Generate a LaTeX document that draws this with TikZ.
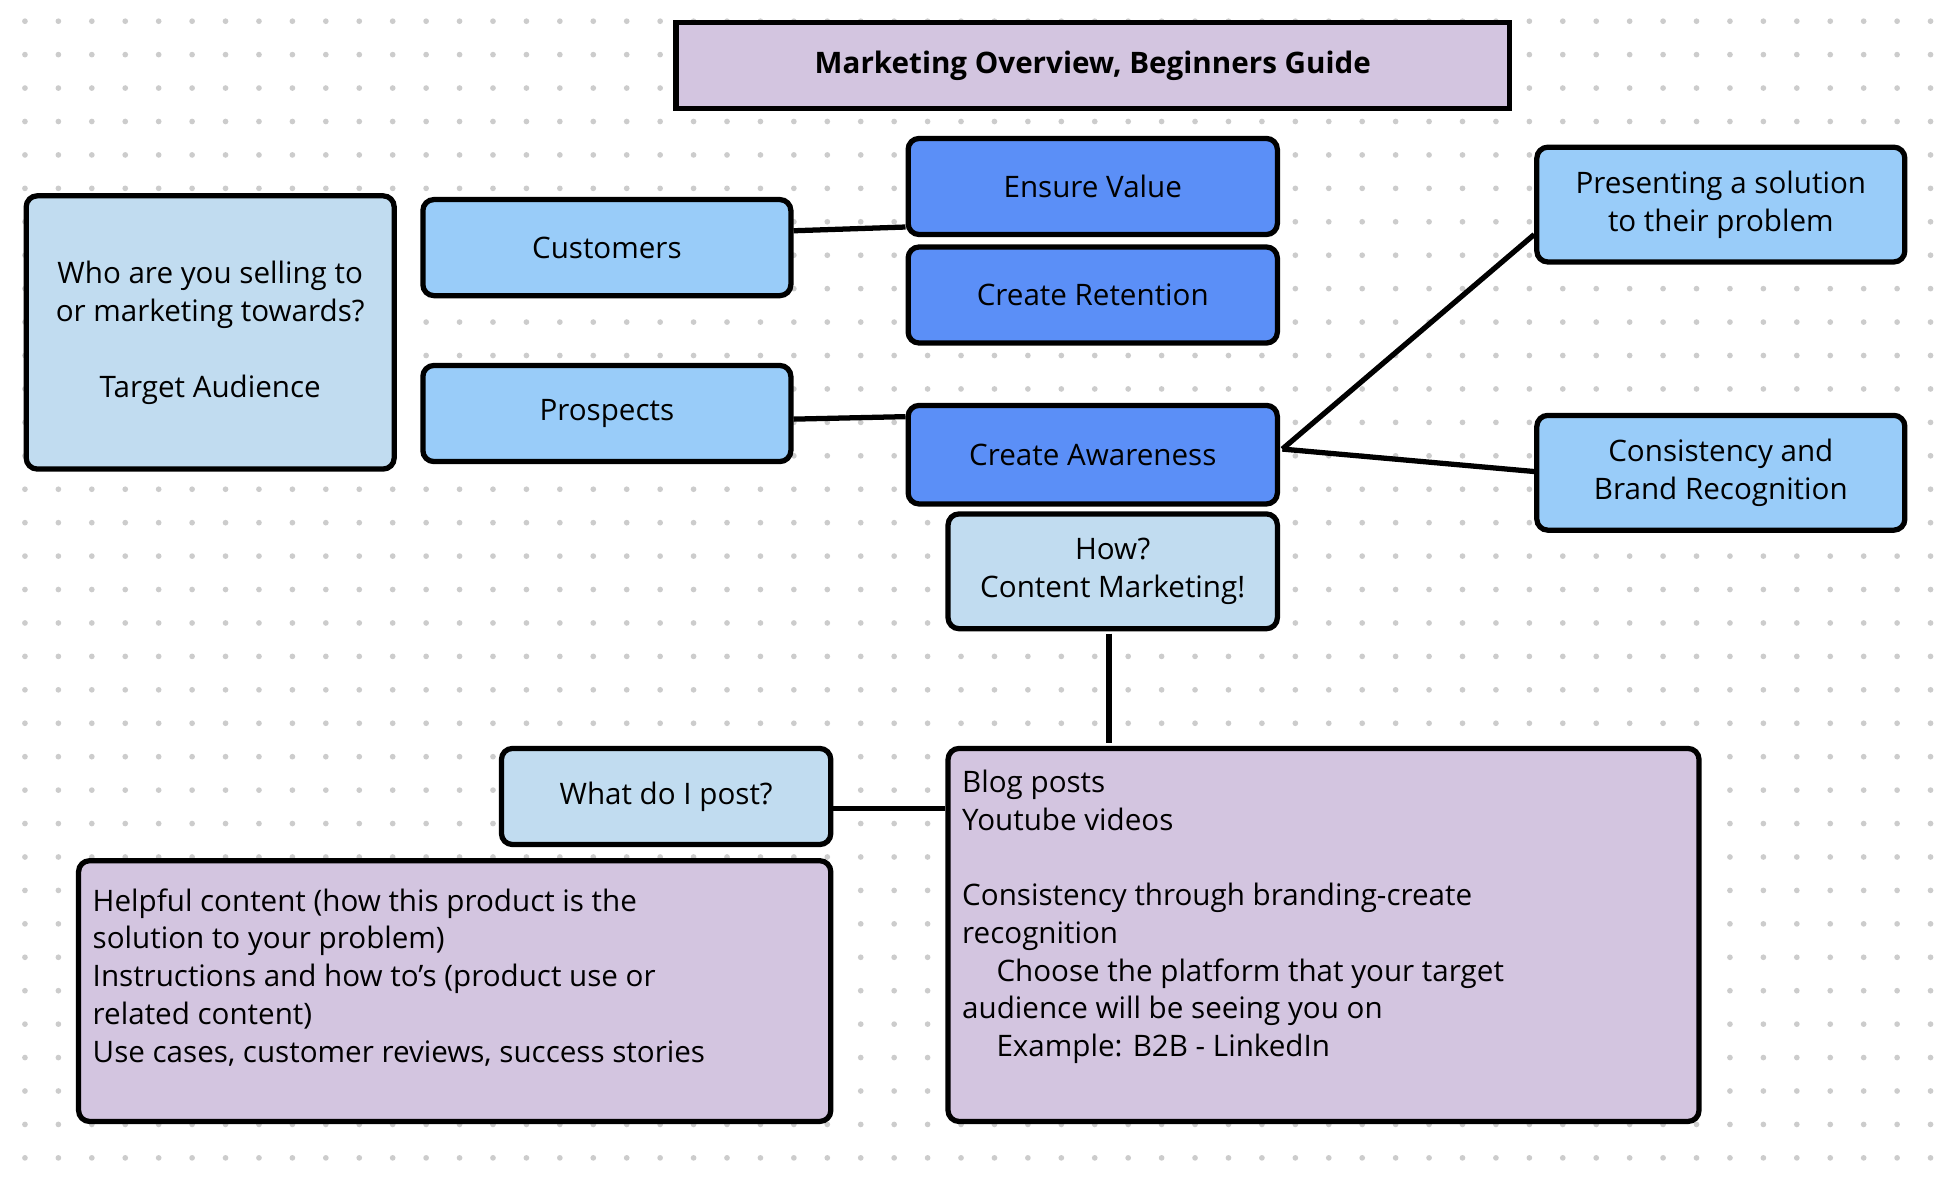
\documentclass[tikz,border=0pt]{standalone}
\usepackage{fontspec}
\setmainfont{Open Sans}
\definecolor{lav}{HTML}{D3C5E0}
\definecolor{pale}{HTML}{C1DCF0}
\definecolor{sky}{HTML}{99CCF9}
\definecolor{royal}{HTML}{5B8FF7}
\begin{document}
\begin{tikzpicture}[x=0.02cm,y=-0.02cm,
  box/.style={draw=black,line width=2.4pt,rounded corners=5pt,align=center,inner sep=0pt,font=\fontsize{13.5}{17.5}\selectfont},
  con/.style={line width=2.4pt}]
\useasboundingbox (0,0) rectangle (1560,945);
\fill[white] (0,0) rectangle (1560,945);
\foreach \i in {0,...,57}{\foreach \j in {0,...,35}{\fill[gray!40] (20+26.8*\i,17+26.8*\j) circle (1.3pt);}}
\newcommand{\bx}[6]{\node[box,fill=#6,minimum width={(#4-#2)*0.02cm},minimum height={(#5-#3)*0.02cm}] (#1) at ({(#2+#4)/2},{(#3+#5)/2})}
\bx{title}{542}{18}{1210}{87}{lav}[rounded corners=0pt,font=\fontsize{13.5}{17}\selectfont\bfseries]{Marketing Overview, Beginners Guide};
\bx{ta}{21}{157}{316}{376}{pale}{Who are you selling to\\or marketing towards?\\[17pt]Target Audience};
\bx{cu}{339}{160}{634}{237}{sky}{Customers};
\bx{pr}{339}{293}{634}{370}{sky}{Prospects};
\bx{ev}{728}{111}{1024}{188}{royal}{Ensure Value};
\bx{cr}{728}{198}{1024}{275}{royal}{Create Retention};
\bx{ca}{728}{325}{1024}{404}{royal}{Create Awareness};
\bx{how}{760}{412}{1024}{504}{pale}{How?\\Content Marketing!};
\bx{ps}{1232}{118}{1527}{210}{sky}{Presenting a solution\\to their problem};
\bx{cb}{1232}{333}{1527}{425}{sky}{Consistency and\\Brand Recognition};
\bx{wp}{402}{600}{666}{677}{pale}{What do I post?};
\bx{hc}{63}{690}{666}{899}{lav}{};
\bx{bl}{760}{600}{1362}{899}{lav}{};
\node[anchor=north west,align=left,inner sep=0pt,font=\fontsize{13.5}{17.2}\selectfont] (hct) at (74,712) {Helpful content (how this product is the\\solution to your problem)\\Instructions and how to’s (product use or\\related content)\\Use cases, customer reviews, success stories};
\node[anchor=north west,align=left,inner sep=0pt,font=\fontsize{13.5}{17.2}\selectfont] (blt) at (771,617) {Blog posts\\Youtube videos\\[17.2pt]Consistency through branding-create\\recognition\\\hspace{0.55cm}Choose the platform that your target\\audience will be seeing you on\\\hspace{0.55cm}Example: B2B - LinkedIn};
\coordinate (hb) at (889,508);
\coordinate (bt) at (889,596);
\draw[con] (cu.east |- 0,185) -- (ev.west |- 0,182);
\draw[con] (pr.east |- 0,336) -- (ca.west |- 0,334);
\draw[con] (1028,360) -- (ps.west |- 0,188);
\draw[con] (1028,360) -- (cb.west |- 0,378);
\draw[con] (hb) -- (bt);
\draw[con] (wp.east |- 0,648) -- (bl.west |- 0,648);
\end{tikzpicture}
\end{document}
